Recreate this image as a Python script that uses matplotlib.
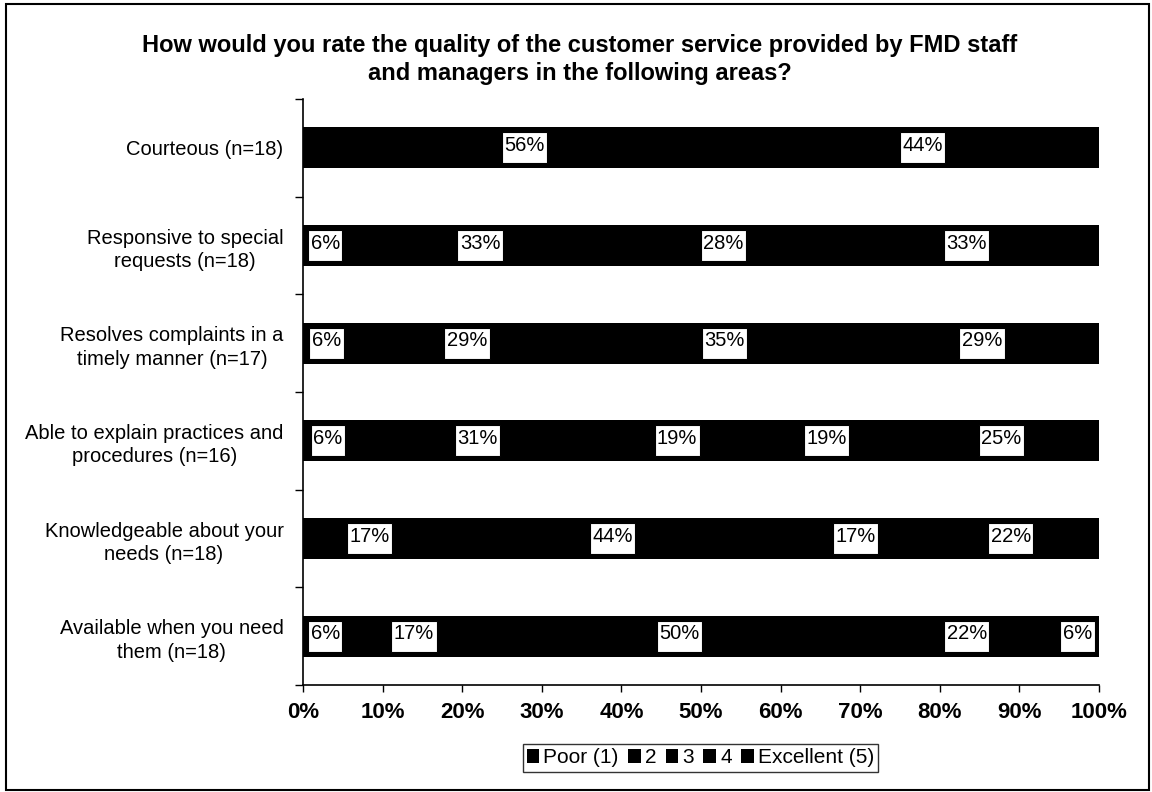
import numpy as np
import matplotlib
matplotlib.use("Agg")
import matplotlib.pyplot as plt
from matplotlib.patches import Rectangle
from matplotlib.path import Path

plt.rcParams['font.family'] = ['Liberation Sans', 'DejaVu Sans']

title = ("How would you rate the quality of the customer service provided by FMD staff\n"
         "and managers in the following areas?")

categories = [
    "Courteous (n=18)",
    "Responsive to special\nrequests (n=18)",
    "Resolves complaints in a\ntimely manner (n=17)",
    "Able to explain practices and\nprocedures (n=16)",
    "Knowledgeable about your\nneeds (n=18)",
    "Available when you need\nthem (n=18)",
]

series_names = ["Poor (1)", "2", "3", "4", "Excellent (5)"]

# shares in percent (labels show them rounded)
poor = [0, 0, 0, 6.3, 0, 5.6]
two = [0, 5.6, 5.9, 31.3, 16.7, 16.7]
three = [0, 33.3, 29.4, 18.8, 44.4, 50.0]
four = [55.6, 27.8, 35.3, 18.8, 16.7, 22.2]
excellent = [44.4, 33.3, 29.4, 25.0, 22.2, 5.6]

x_ticks = list(range(0, 101, 10))


def label_box(x0, y0, width, height, mutation_size):
    # Excel-like label box: a little extra room under the text
    px = 0.12 * mutation_size
    pt = 0.18 * mutation_size
    pb = 0.42 * mutation_size
    verts = [(x0 - px, y0 - pb), (x0 + width + px, y0 - pb),
             (x0 + width + px, y0 + height + pt), (x0 - px, y0 + height + pt),
             (x0 - px, y0 - pb)]
    return Path(verts, closed=True)


def main():
    fig = plt.figure(figsize=(11.52, 7.92), dpi=100)
    ax = fig.add_axes([0.263, 0.135, 0.691, 0.740])

    series = [poor, two, three, four, excellent]
    y = np.arange(len(categories))
    left = np.zeros(len(categories))
    handles = []
    for name, vals in zip(series_names, series):
        vals = np.array(vals, dtype=float)
        bars = ax.barh(y, vals, left=left, height=0.42, color='black',
                       edgecolor='none', label=name)
        handles.append(bars)
        for yi, (l, v) in enumerate(zip(left, vals)):
            if v > 0:
                ax.text(l + v / 2, yi - 0.025, "%.0f%%" % v, ha='center',
                        va='center', fontsize=14.5, color='black',
                        bbox=dict(boxstyle=label_box, fc='white',
                                  ec='black', lw=0.8))
        left = left + vals

    ax.set_xlim(0, 100)
    ax.set_ylim(len(categories) - 0.5, -0.5)
    ax.set_xticks(x_ticks)
    ax.set_xticklabels(["%d%%" % t for t in x_ticks], fontsize=16,
                       fontweight='bold')
    ax.tick_params(axis='x', direction='out', length=5, width=1, pad=7)

    # boundary ticks on y, labels on minor ticks at the bar centres
    ax.set_yticks(np.arange(len(categories) + 1) - 0.5)
    ax.set_yticklabels([])
    ax.tick_params(axis='y', which='major', direction='out', length=6, width=1)
    ax.set_yticks(y, minor=True)
    ax.set_yticklabels(categories, minor=True, fontsize=14.5)
    ax.tick_params(axis='y', which='minor', length=0, pad=14)
    for lbl in ax.get_yticklabels(minor=True):
        lbl.set_multialignment('center')
        lbl.set_linespacing(1.3)

    for side in ['top', 'right']:
        ax.spines[side].set_visible(False)
    for side in ['left', 'bottom']:
        ax.spines[side].set_linewidth(1.2)

    fig.text(0.503, 0.925, title, ha='center', va='center', fontsize=17,
             fontweight='bold', linespacing=1.25)

    leg = fig.legend(handles=handles, labels=series_names, loc='center',
                     bbox_to_anchor=(0.608, 0.043), ncol=5, fontsize=15,
                     frameon=True, fancybox=False, edgecolor='black',
                     handlelength=0.6, handleheight=0.7, handletextpad=0.2,
                     columnspacing=0.45, borderpad=0.2, borderaxespad=0)
    leg.get_frame().set_linewidth(1.0)

    fig.patches.append(Rectangle((0.005, 0.003), 0.992, 0.992,
                                 transform=fig.transFigure, fill=False,
                                 ec='black', lw=1.5))

    fig.savefig("out.png", dpi=100)


if __name__ == "__main__":
    main()
